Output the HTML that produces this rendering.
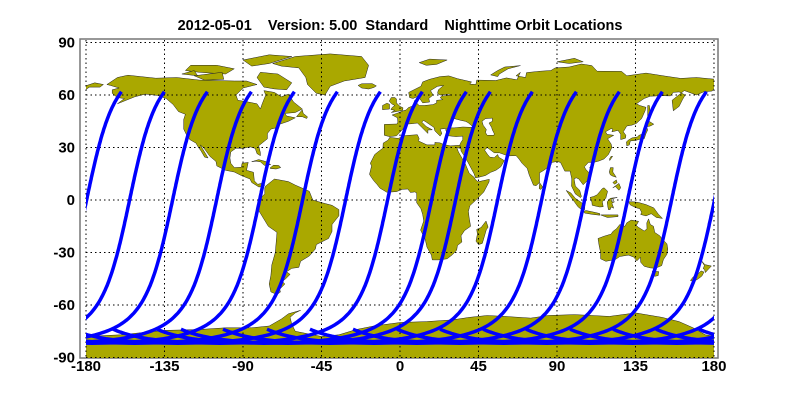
<!DOCTYPE html>
<html><head><meta charset="utf-8">
<style>
html,body{margin:0;padding:0;background:#fff;width:800px;height:400px;overflow:hidden}
svg{display:block}
text{font-family:"Liberation Sans",Arial,sans-serif;font-weight:bold;font-size:15px;fill:#000;white-space:pre}
</style></head><body>
<svg id="s" width="800" height="400" xmlns="http://www.w3.org/2000/svg">
<defs><clipPath id="c"><rect x="86" y="40" width="628" height="318"/></clipPath></defs>
<rect x="80" y="39" width="638" height="319" fill="#fff" stroke="#777" stroke-width="1.5"/>
<g id="land" clip-path="url(#c)" fill="#aaa800" stroke="#222" stroke-width="0.5"></g>
<g id="grid" stroke="#000" stroke-width="1" stroke-dasharray="1.5,3" fill="none"></g>
<g id="orb" clip-path="url(#c)" fill="none" stroke="#0000ff" stroke-width="3.5" stroke-linejoin="round"></g>
<g id="lab"></g>
<text x="400" y="30" text-anchor="middle" xml:space="preserve" style="font-size:14.5px">2012-05-01    Version: 5.00  Standard    Nighttime Orbit Locations</text>
</svg>
<script>
var NS="http://www.w3.org/2000/svg";
function X(l){return 86+(l+180)*1.7444;}
function Y(b){return 200-b*1.75;}
function el(t,a,p){var e=document.createElementNS(NS,t);for(var k in a)e.setAttribute(k,a[k]);p.appendChild(e);return e;}
var polys=[
[[-168,66],[-162,70],[-156,71.3],[-140,69.6],[-128,70],[-115,68.5],[-95,68],[-88,68],[-82,66],[-90,64],[-94,60],[-93,57],[-87,56],[-82,55],[-80,52],[-79,55],[-77,60],[-78,62.5],[-72,61.5],[-68,59],[-64,60.5],[-61,56],[-56,52],[-60,50],[-66,49.5],[-65,48],[-60,47],[-64,45],[-70,43],[-70,41.5],[-74,40.5],[-76,38],[-76,35],[-81,31],[-80,27],[-80,25.3],[-82,26.5],[-83,29.5],[-86,30.4],[-90,29.5],[-94,29.6],[-97,27.5],[-97.5,24],[-97,21],[-95,18.5],[-91,18.7],[-90.5,21],[-87,21.5],[-88,17],[-84,15.8],[-83.5,11],[-81.5,9],[-79.5,9.5],[-77.5,8.5],[-79,7.5],[-81,7.5],[-85,10],[-86,12],[-91,14],[-95,16],[-100,17],[-105,19.5],[-105.5,22],[-109,25],[-112.5,29.8],[-114.5,31.5],[-113,29],[-110,24],[-112,24.5],[-114,28],[-115.5,30],[-117,32.5],[-120.5,34.5],[-122.5,37.5],[-124,40.5],[-124,46],[-123,49],[-127,50.5],[-130,54.5],[-134,58],[-139,59.8],[-146,60.5],[-152,59],[-157,57],[-162,55],[-158,58],[-162,58.5],[-165,61],[-165,63],[-161,64],[-166,65.5]],
[[-73,78],[-60,82],[-40,83.5],[-22,82],[-18,77],[-20,70],[-32,68],[-40,65],[-43,60],[-48,61],[-53,66],[-54,70],[-58,75.5],[-68,76.5]],
[[-80,73],[-70,72],[-62,67],[-65,63],[-72,63.5],[-78,64.5],[-82,70]],
[[-120,77],[-105,77],[-95,75],[-100,72],[-115,73],[-123,74]],
[[-90,80],[-75,83],[-62,82],[-75,78],[-85,76.5]],
[[-118,71],[-102,73],[-101,69],[-112,68.5]],
[[-125,72],[-118,74],[-116,71]],
[[-77,8],[-72,12],[-64,10.5],[-60,8.5],[-52,5],[-50,0],[-45,-1.5],[-39,-3],[-35,-5.5],[-35,-9],[-39,-14],[-39,-18],[-41,-22],[-48,-25.5],[-48.5,-28],[-52,-32],[-57,-35],[-58,-38.5],[-62,-39],[-65,-41],[-63,-42.5],[-65.5,-45],[-67.5,-46.5],[-66,-48],[-69,-51],[-68.5,-52.5],[-70.5,-54],[-74,-52.5],[-75,-48],[-74,-43],[-73.5,-37],[-71.5,-30],[-70.5,-18.5],[-75.5,-15],[-81,-6],[-80,-1],[-80,1],[-77.5,3.5],[-77.5,7]],
[[-9,43],[-9,37],[-6,36.2],[-2,36.7],[0,38.8],[3,42],[3,43.3],[7,43.6],[10,44],[12.5,41.5],[16,38],[16,40],[18.5,40.1],[15,42],[12.5,44.5],[13.5,45.5],[15,44.5],[19.5,41.5],[20,39.5],[23,36.5],[24,38],[23,40.5],[26.5,40.9],[26.2,40.1],[27,38],[28,36.7],[32,36.2],[36,36.5],[36,34.5],[35,33],[34.3,31.5],[34.9,29.5],[35,28],[37,25],[39,21.5],[42.5,15],[43.3,12.7],[45,13],[49,14],[52,15.8],[55,17],[57.8,19],[59.8,22.5],[56.5,24.5],[56,26],[54,24.2],[51.5,24.5],[50.2,26],[48.5,28.5],[50,30],[54,27],[57,27],[62,25.2],[66.5,25.4],[68,23.7],[70,21],[73,18],[74,14.5],[76.5,8.5],[78,8.2],[80,10],[80,15.5],[82.5,17],[86.5,20],[87,21.5],[90,22],[92,21.5],[94.5,16.5],[97.5,16.5],[98.5,12],[98.3,8],[100.5,3.5],[103.5,1.4],[104,2],[103,5.5],[100.5,8],[99.8,12],[101,12.7],[102.5,12],[105,8.7],[106.8,10.5],[109,11.5],[109,15],[106.5,17.5],[105.7,19],[108,21.5],[111,21.5],[114,22.3],[117,23.5],[119.5,26],[121.5,30],[121,32],[119,35],[122.5,37],[118.8,37.5],[117.8,39],[121,40.8],[122,40.5],[121.5,39],[125,39.8],[126.6,37.5],[126.5,34.5],[129.3,35.3],[129.5,37],[128,39],[130,42.3],[133,42.8],[135.5,43.8],[138.5,46.5],[140.5,51],[141,53],[137.5,54],[135.5,55],[140,58],[143.5,59.3],[150,59.6],[155,59.5],[156.7,61.5],[160,61.8],[163.5,60],[162,57.5],[160,53.5],[156.7,51],[156,57],[163,62.5],[170,60],[174,61.8],[179,62.3],[181,65],[181,69],[170,70],[161,69.5],[152,70.8],[141,72.5],[130,71],[127,73.5],[113,73.6],[110,76.8],[104,77.7],[97,76],[89,75.5],[86.5,74],[80.5,73.6],[72.5,72.8],[72,70],[66.5,71],[69,73],[67,68.7],[61,69.8],[55,68.3],[44,68.5],[43.5,66],[40,66.2],[41,67.5],[33,69.3],[28,70.9],[23,70.5],[17,69],[13,67.5],[12,65],[5,61.5],[5.5,58.5],[7.5,58],[10.5,59.3],[12,57],[13,55.5],[17,56],[16.5,58],[19,60],[17.5,62.5],[21.5,65],[25,65.5],[22,63],[21.5,61],[23,60],[28,60.5],[29.5,60],[24,59.4],[23,58.5],[24.5,57.3],[21,57],[21,55.5],[19,54.5],[14,54],[11,54],[10,55],[8.5,57.1],[8,55.5],[8.8,54],[7,53.6],[4.8,52.8],[3.5,51.4],[1.6,50.9],[-1.5,49.6],[-4.5,48.6],[-1.5,47],[-1.2,44.5],[-1.8,43.4],[-9,43.2]],
[[-181,65],[-175,67],[-170,66],[-172,64.5],[-178,64.5],[-181,62.5]],
[[-5.9,35.8],[-1,35.2],[3,36.8],[10,37.3],[11,35],[10.5,33.8],[15.5,31.5],[20,31.5],[20,32.9],[23,32.6],[25,31.7],[29,30.9],[32.3,31.2],[34.3,31.2],[34.9,29.5],[32.6,29.9],[33.5,27.5],[35.6,23.8],[37.3,21],[38.5,18],[39.7,15.3],[42.5,13],[43.3,11.6],[44.7,10.4],[51.2,11.8],[51,10.3],[48,4.5],[43,-0.5],[40,-3.3],[39.2,-6.5],[39.6,-10],[40.5,-15],[37,-17.5],[35,-20.5],[35.5,-24],[32.9,-26],[32.5,-28.6],[30,-31.3],[27,-33.6],[22,-34.2],[18.5,-34.2],[18,-31.5],[15.5,-27],[14.5,-22.7],[11.8,-17.2],[13.6,-12],[13,-8.3],[12,-5],[9.5,-1.5],[9.6,2],[9.5,4],[8.5,4.6],[6,4.3],[4.5,6.3],[1.5,6.1],[-2,4.8],[-7.5,4.4],[-11.5,6.8],[-13.2,8.9],[-15,11],[-16.8,13.5],[-17.5,14.7],[-16.3,19.5],[-17,21],[-14.5,26],[-12,28],[-9.8,29.6],[-9.6,32.5],[-6.8,34.2]],
[[49.3,-12],[50.5,-15.5],[49.5,-17],[47.2,-24.8],[45,-25.5],[43.6,-23.5],[44.4,-19.5],[44,-16.8],[46.5,-15.7]],
[[-5,50],[1.5,51.2],[1.7,52.7],[0,53.5],[-2,55.5],[-2,57.7],[-3,58.6],[-5,58.6],[-6.2,56.5],[-4.8,55],[-3,54],[-4.5,52.8],[-5.2,51.7],[-3,51.3]],
[[-6,52],[-6,54.7],[-7.5,55.3],[-10,54],[-10,51.6]],
[[-22,64],[-24,65.5],[-22,66.4],[-16,66.5],[-13.5,65.2],[-15,64.3],[-18,63.4]],
[[11,78.5],[17,80.5],[27,80],[21,77.5],[15,77]],
[[52,71.5],[56,74],[60,76],[69,76.8],[62,75],[57,72],[56,70.5]],
[[90,79],[100,81],[105,79],[97,78]],
[[130,31],[131.5,31.5],[132,33.8],[135,34],[137,34.6],[140,35],[141,38],[142,40],[141.5,41.5],[140,40.5],[139.8,38],[137,37],[136,36],[133,35.5],[131,34.3],[129.8,33.2]],
[[140,41.6],[143.5,42.3],[145.5,43.3],[142,45.5],[141.5,43.2]],
[[142,46],[143.5,49],[143,54],[142,54],[142,49.5]],
[[120.2,22.5],[121.9,25],[121,25],[120.1,23.5]],
[[108.7,18.5],[110,18.2],[111,19.6],[110,20.1]],
[[79.8,6.5],[80.1,9.8],[81.8,7.5],[80.7,6]],
[[120,16],[120.6,18.5],[122.2,18.5],[122,16],[124,13],[121.5,13.8],[120.5,14.5]],
[[122,7],[125.5,9.5],[126.5,7],[125.5,5.6],[123.5,7.7]],
[[122,10],[124,11.5],[124.5,10],[123,9]],
[[109,1.5],[110,-1.2],[110.2,-3],[114.5,-4],[116.5,-3.8],[116,-1],[118,1],[119,5],[117,7],[116,6.5],[113,3],[111,2]],
[[95.3,5.5],[98,4],[100.5,1],[104,-1.5],[106,-3],[105.8,-5.8],[104.5,-5.8],[102,-3.8],[100,-1],[97.5,2.2]],
[[105.2,-6.8],[106.5,-6],[110.5,-6.8],[114.5,-7.7],[114.5,-8.7],[110,-8.2],[106,-7.5]],
[[119.5,-5.5],[119,-3],[118.8,-1],[120.5,1],[124.5,1.5],[121,0.5],[121.5,-1],[123,-1],[121.5,-1.8],[122.5,-4.7],[121,-4],[120.5,-5.5]],
[[131,-1],[134,-1],[137,-1.5],[141,-2.6],[145.5,-4.5],[148,-8],[150.5,-10.5],[147,-10],[144,-7.8],[141,-9.1],[138,-8.3],[138.5,-7],[137.5,-5],[135,-4.3],[132,-2.8]],
[[115,-8.5],[120,-8.5],[125,-8.5],[125,-9.5],[119,-10],[116,-8.9]],
[[113.5,-22],[114.2,-26.3],[115,-30],[115,-33.6],[118,-35],[123.5,-34],[126,-32.3],[131,-31.5],[134,-32.6],[135.8,-34.8],[137.8,-32.7],[138,-35.6],[140,-37.9],[143.5,-38.8],[146.3,-39],[150,-37.5],[151,-34],[153,-31],[153.5,-28],[153,-25],[150,-22],[149,-20.5],[146,-18.5],[145.3,-15],[143.5,-14],[142.5,-10.8],[141.5,-13],[141.6,-16.5],[140,-17.7],[136.5,-15.5],[135.5,-14.5],[136.8,-12.2],[132.5,-11.5],[130,-13],[129,-15],[126,-14],[124,-16.5],[122,-18],[121,-19.5],[117,-20.7]],
[[144.6,-40.7],[148.3,-40.9],[148,-43.2],[146,-43.6]],
[[172.7,-34.5],[174.8,-36.9],[178.5,-37.7],[177,-39.3],[175,-41.5],[174.6,-39.8],[173.8,-39.2],[174.5,-37.5]],
[[172.6,-40.5],[174.3,-41.2],[173,-43.5],[171,-45],[168.3,-46.6],[166.5,-46],[168,-44],[171,-42]],
[[-85,21.9],[-81,23.1],[-77,22],[-74.1,20.2],[-77.8,19.8],[-80,21.8],[-82.5,22.2]],
[[-74.5,18.3],[-72.5,19.9],[-69.5,19.7],[-68.4,18.5],[-71,17.7],[-74.3,18]],
[[-59.3,47.6],[-56,51.6],[-55.5,49.5],[-53,47.5],[-53.5,46.6],[-56,47.6]],
[[-181,-91],[-181,-78],[-160,-77],[-150,-76],[-135,-74.5],[-115,-74],[-100,-73],[-85,-73],[-75,-72],[-68,-68],[-64,-65],[-57,-63],[-60,-64.5],[-63,-67],[-62,-71],[-60,-75],[-45,-78],[-35,-77],[-25,-74],[-15,-72],[0,-70],[15,-69.5],[30,-68.5],[40,-67],[50,-66],[60,-66.5],[75,-67.5],[85,-66],[100,-65.5],[110,-66],[120,-66.5],[135,-64.5],[150,-67],[160,-69.5],[168,-73],[175,-77],[181,-78],[181,-91]]
];
var land=document.getElementById('land');
polys.forEach(function(p){
 var d=p.map(function(q,i){return (i?'L':'M')+X(q[0]).toFixed(1)+','+Y(q[1]).toFixed(1);}).join('')+'Z';
 el('path',{d:d},land);
});
[[[28,41.2],[31,41.2],[36,41.7],[41.5,41.5],[41.7,42],[39,44.2],[37.5,45],[35,45.5],[33,46],[31,46.6],[29.7,45.5],[28.6,43.4]],
 [[47,45],[49,46.5],[53,46.8],[53,45],[51,44],[52.5,41.5],[53,40],[54,38],[53.9,37],[50,37],[49,38.5],[49.5,40.3],[47.7,42.7]]].forEach(function(p){
 var d=p.map(function(q,i){return (i?'L':'M')+X(q[0]).toFixed(1)+','+Y(q[1]).toFixed(1);}).join('')+'Z';
 el('path',{d:d,fill:'#fff'},land);
});
var g=document.getElementById('grid'),lab=document.getElementById('lab');
for(var lo=-180;lo<=180;lo+=45){
 el('line',{x1:X(lo),x2:X(lo),y1:40,y2:357},g);
 var t=el('text',{x:X(lo),y:371,'text-anchor':'middle'},lab);t.textContent=lo;
}
for(var la=-90;la<=90;la+=30){
 el('line',{x1:86,x2:714,y1:Y(la),y2:Y(la)},g);
 var t=el('text',{x:75,y:Y(la)+5,'text-anchor':'end'},lab);t.textContent=la;
}
var orb=document.getElementById('orb');
var inc=98.2*Math.PI/180,ci=Math.cos(inc),si=Math.sin(inc);
var tops=[122,165,208,252,295,338,381,423,467,491,533,577,620,663,707];
tops.forEach(function(px){
 var lon0=(px-86)/1.7444-180-20.3;
 var pts=[];
 for(var u=-104;u<=63.01;u+=1){
  var r=u*Math.PI/180;
  var lat=Math.asin(si*Math.sin(r))*180/Math.PI;
  var dl=Math.atan2(ci*Math.sin(r),Math.cos(r))*180/Math.PI;
  var lon=lon0-dl+0.0688*u;
  pts.push([lon,lat]);
 }
 [-360,0,360].forEach(function(sh){
  var d=pts.map(function(q,i){return (i?'L':'M')+X(q[0]+sh).toFixed(1)+','+Y(q[1]).toFixed(1);}).join('');
  el('path',{d:d},orb);
 });
});
</script>
</body></html>
